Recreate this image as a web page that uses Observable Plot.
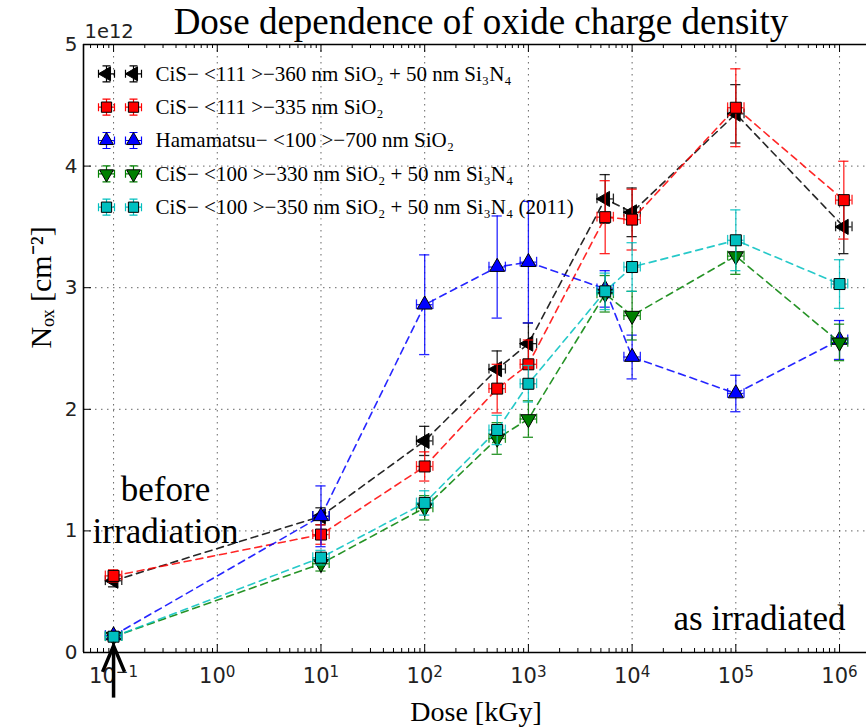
<!DOCTYPE html>
<html><head><meta charset="utf-8">
<script src="https://cdn.jsdelivr.net/npm/d3@7"></script>
<script src="https://cdn.jsdelivr.net/npm/@observablehq/plot@0.6"></script>
<style>body{margin:0;background:#fff}</style>
</head><body><div id="chart"></div>
<script>
// ---- data ----
const doses = [0.1, 10, 100, 500, 1000, 5500, 1e4, 1e5, 1e6];
const dosesShifted = [0.1, 10, 100, 500, 1000, 5500, 1e4, 1e5, 1.1e6];
const labels = [
  "CiS\u2212 <111 >\u2212360 nm SiO\u2082 + 50 nm Si\u2083N\u2084",
  "CiS\u2212 <111 >\u2212335 nm SiO\u2082",
  "Hamamatsu\u2212 <100 >\u2212700 nm SiO\u2082",
  "CiS\u2212 <100 >\u2212330 nm SiO\u2082 + 50 nm Si\u2083N\u2084",
  "CiS\u2212 <100 >\u2212350 nm SiO\u2082 + 50 nm Si\u2083N\u2084 (2011)"
];
const blackVals = [0.59, 1.12, 1.74, 2.33, 2.54, 3.73, 3.62, 4.43, 3.50];
const blackErr  = [0.05, 0.07, 0.12, 0.15, 0.17, 0.20, 0.20, 0.24, 0.22];
const redVals   = [0.63, 0.97, 1.53, 2.17, 2.37, 3.58, 3.56, 4.48, 3.72];
const redErr    = [0.05, 0.08, 0.12, 0.20, 0.20, 0.30, 0.25, 0.32, 0.32];
const blueVals  = [0.14, 1.12, 2.86, 3.17, 3.21, 2.99, 2.43, 2.13, 2.57];
const blueErr   = [0.03, 0.25, 0.41, 0.42, 0.50, 0.15, 0.18, 0.15, 0.16];
const greenVals = [0.13, 0.73, 1.19, 1.76, 1.92, 2.95, 2.77, 3.26, 2.55];
const greenErr  = [0.03, 0.06, 0.10, 0.13, 0.15, 0.15, 0.20, 0.15, 0.15];
const cyanVals  = [0.13, 0.78, 1.23, 1.83, 2.21, 2.97, 3.17, 3.39, 3.03];
const cyanErr   = [0.03, 0.06, 0.10, 0.12, 0.15, 0.15, 0.20, 0.25, 0.20];
const xMajor = [1e-1, 1e0, 1e1, 1e2, 1e3, 1e4, 1e5, 1e6];
const yTicks = [0, 1, 2, 3, 4, 5];
const xDomain = [0.0513, 1.82e6];
const yDomain = [0, 5];

// ---- styles ----
const colors = ["#000000", "#ff0000", "#0000ff", "#008000", "#00bfbf"];
const symbols = ["triangle", "square", "triangle", "triangle", "square"];
const rotations = [-90, 0, 0, 180, 0];
const series = [
  {x: dosesShifted, y: blackVals, e: blackErr},
  {x: dosesShifted, y: redVals, e: redErr},
  {x: doses, y: blueVals, e: blueErr},
  {x: doses, y: greenVals, e: greenErr},
  {x: doses, y: cyanVals, e: cyanErr}
];

const W = 866, H = 728, ML = 83, MR = 0, MT = 44, MB = 76;
const PW = W - ML - MR, PH = H - MT - MB;
const capK = 1.12, xeK = 1.2, hcap = 0.04;
const serif = "Liberation Serif";
const sans = "DejaVu Sans";

const expFmt = d => "10^" + Math.round(Math.log10(d));

const minor = [];
for (let k = -2; k <= 6; k++) for (let m = 2; m <= 9; m++) {
  const v = m * Math.pow(10, k);
  if (v > xDomain[0] && v < xDomain[1]) minor.push(v);
}

const errSym = {draw(ctx) {
  const h = 8, w = 8, c = 4;
  ctx.moveTo(0, -h); ctx.lineTo(0, h);
  ctx.moveTo(-c, -h); ctx.lineTo(c, -h);
  ctx.moveTo(-c, h); ctx.lineTo(c, h);
  ctx.moveTo(-w, 0); ctx.lineTo(w, 0);
  ctx.moveTo(-w, -c); ctx.lineTo(-w, c);
  ctx.moveTo(w, -c); ctx.lineTo(w, c);
}};
const headSym = {draw(ctx) {
  ctx.moveTo(-11, 26); ctx.lineTo(0, 0); ctx.lineTo(11, 26);
}};

const marks = [
  Plot.gridX({ticks: xMajor, stroke: "#333", strokeOpacity: 0.75, strokeDasharray: "1.5,4.5"}),
  Plot.gridY({ticks: yTicks, stroke: "#333", strokeOpacity: 0.75, strokeDasharray: "1.5,4.5"}),
  // inward ticks
  Plot.tickX(xMajor, {x: d => d, insetTop: PH - 8, stroke: "#000", strokeWidth: 1}),
  Plot.tickX(xMajor, {x: d => d, insetBottom: PH - 8, stroke: "#000", strokeWidth: 1}),
  Plot.tickX(minor, {x: d => d, insetTop: PH - 4, stroke: "#000", strokeWidth: 1}),
  Plot.tickX(minor, {x: d => d, insetBottom: PH - 4, stroke: "#000", strokeWidth: 1}),
  Plot.tickY(yTicks, {y: d => d, insetRight: PW - 8, stroke: "#000", strokeWidth: 1}),
  // frame (left, top, bottom)
  Plot.ruleX([xDomain[0]], {stroke: "#000", strokeWidth: 1.6}),
  Plot.ruleY(yDomain, {stroke: "#000", strokeWidth: 1.6}),
  Plot.axisX({ticks: xMajor, tickFormat: expFmt, tickSize: 0, tickPadding: 16, fontSize: 21, fontFamily: sans, fill: "#222", label: null}),
  Plot.axisY({ticks: yTicks, tickFormat: d => String(d), tickSize: 0, tickPadding: 6, fontSize: 20, fontFamily: sans, fill: "#222", label: null})
];

series.forEach((s, i) => {
  const rows = s.x.map((x, j) => ({x, y: s.y[j], e: s.e[j]}));
  const c = colors[i];
  marks.push(Plot.line(rows, {x: "x", y: "y", stroke: c, strokeWidth: 1.6, strokeDasharray: "7,5", strokeOpacity: 0.85}));
  marks.push(Plot.ruleX(rows, {x: "x", y1: d => d.y - d.e, y2: d => d.y + d.e, stroke: c, strokeWidth: 1.3, strokeOpacity: 0.85}));
  marks.push(Plot.ruleY(rows, {y: d => d.y + d.e, x1: d => d.x / capK, x2: d => d.x * capK, stroke: c, strokeWidth: 1.3, strokeOpacity: 0.85}));
  marks.push(Plot.ruleY(rows, {y: d => d.y - d.e, x1: d => d.x / capK, x2: d => d.x * capK, stroke: c, strokeWidth: 1.3, strokeOpacity: 0.85}));
  marks.push(Plot.ruleY(rows, {y: "y", x1: d => d.x / xeK, x2: d => d.x * xeK, stroke: c, strokeWidth: 1.3, strokeOpacity: 0.85}));
  marks.push(Plot.ruleX(rows, {x: d => d.x / xeK, y1: d => d.y - hcap, y2: d => d.y + hcap, stroke: c, strokeWidth: 1.3, strokeOpacity: 0.85}));
  marks.push(Plot.ruleX(rows, {x: d => d.x * xeK, y1: d => d.y - hcap, y2: d => d.y + hcap, stroke: c, strokeWidth: 1.3, strokeOpacity: 0.85}));
  marks.push(Plot.dot(rows, {x: "x", y: "y", symbol: symbols[i], rotate: rotations[i], r: symbols[i] === "square" ? 6.2 : 5.6, fill: c, stroke: "#000", strokeWidth: 1}));
});

// legend
labels.forEach((lab, i) => {
  const dy = 29.3 + i * 33.35;
  [23, 50].forEach(dx => {
    marks.push(Plot.dot([lab], {frameAnchor: "top-left", dx, dy, symbol: errSym, r: 5, fill: "none", stroke: colors[i], strokeWidth: 1.2}));
    marks.push(Plot.dot([lab], {frameAnchor: "top-left", dx, dy, symbol: symbols[i], rotate: rotations[i], r: symbols[i] === "square" ? 5.8 : 5.2, fill: colors[i], stroke: "#000", strokeWidth: 1}));
  });
  marks.push(Plot.text([lab], {frameAnchor: "top-left", dx: 72, dy, text: d => d, textAnchor: "start", lineAnchor: "middle", fontSize: 21, fontFamily: serif, fill: "#000"}));
});

// titles & annotations
marks.push(Plot.text(["Dose dependence of oxide charge density"], {frameAnchor: "top", dx: 6, dy: -11, text: d => d, lineAnchor: "bottom", fontSize: 37, fontFamily: serif, fill: "#000"}));
marks.push(Plot.text(["1e12"], {frameAnchor: "top-left", dx: 1, dy: -7, text: d => d, textAnchor: "start", lineAnchor: "bottom", fontSize: 19.5, fontFamily: sans, fill: "#222"}));
marks.push(Plot.text(["N\u2092\u2093 [cm\u207B\u00B2]"], {frameAnchor: "left", dx: -42, text: d => d, rotate: -90, lineAnchor: "middle", fontSize: 30, fontFamily: serif, fill: "#000"}));
marks.push(Plot.text(["Dose [kGy]"], {frameAnchor: "bottom", dx: 1, dy: 60, text: d => d, lineAnchor: "middle", fontSize: 28, fontFamily: serif, fill: "#000"}));
marks.push(Plot.text(["before\nirradiation"], {frameAnchor: "bottom-left", dx: 82, dy: -110, text: d => d, textAnchor: "middle", lineAnchor: "bottom", lineHeight: 1.2, fontSize: 35, fontFamily: serif, fill: "#000"}));
marks.push(Plot.text(["as irradiated"], {frameAnchor: "bottom-right", dx: -21, dy: -23, text: d => d, textAnchor: "end", lineAnchor: "bottom", fontSize: 35, fontFamily: serif, fill: "#000"}));
// arrow pointing at the "before irradiation" dose
marks.push(Plot.ruleX([doses[0]], {x: d => d, y1: -0.375, y2: 0.04, stroke: "#000", strokeWidth: 3.5}));
marks.push(Plot.dot([doses[0]], {x: d => d, y: 0.055, symbol: headSym, fill: "none", stroke: "#000", strokeWidth: 3.5, strokeLinejoin: "miter"}));

const chart = Plot.plot({
  width: W, height: H,
  marginLeft: ML, marginRight: MR, marginTop: MT, marginBottom: MB,
  x: {type: "log", domain: xDomain},
  y: {domain: yDomain},
  style: {background: "#fff", fontFamily: serif, overflow: "visible"},
  marks
});
// render exponent as superscript tspans
d3.select(chart).selectAll('g[aria-label="x-axis tick label"] text').each(function() {
  const t = d3.select(this);
  const parts = t.text().split("^");
  if (parts.length !== 2) return;
  t.text(parts[0]);
  t.append("tspan").attr("dy", "-0.45em").attr("font-size", "0.72em").text(parts[1].replace("-", "\u2212"));
});
document.getElementById("chart").appendChild(chart);
</script>
</body></html>
